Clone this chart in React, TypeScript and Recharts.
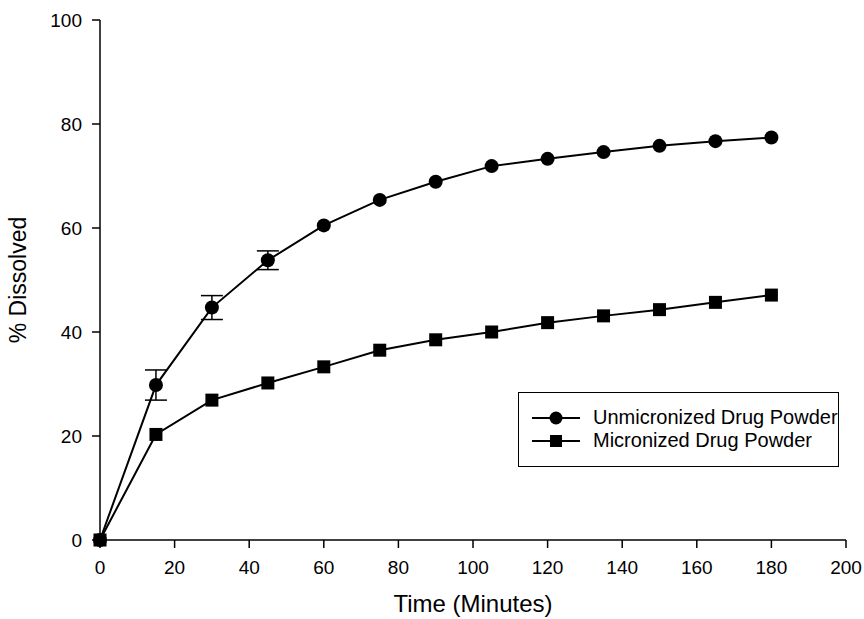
import { LineChart, Line, XAxis, YAxis, ErrorBar } from 'recharts';

const times = [0, 15, 30, 45, 60, 75, 90, 105, 120, 135, 150, 165, 180];
const unmicronized = [0, 29.8, 44.7, 53.8, 60.5, 65.4, 68.9, 71.9, 73.3, 74.6, 75.8, 76.7, 77.4];
const unmicronizedErr = [null, 2.9, 2.3, 1.8, null, null, null, null, null, null, null, null, null];
const micronized = [0, 20.3, 26.9, 30.2, 33.3, 36.5, 38.5, 40.0, 41.8, 43.1, 44.3, 45.7, 47.1];

const xTicks = [0, 20, 40, 60, 80, 100, 120, 140, 160, 180, 200];
const yTicks = [0, 20, 40, 60, 80, 100];

const data = times.map((t, i) => ({
  time: t,
  unmicronized: unmicronized[i],
  err: unmicronizedErr[i],
  micronized: micronized[i],
}));

const FONT = '"Liberation Sans", Arial, sans-serif';

function SquareDot(props: any) {
  const { cx, cy } = props;
  if (cx == null || cy == null) return null;
  return <rect x={cx - 6.5} y={cy - 6.5} width={13} height={13} fill="#000" />;
}

function LegendBox() {
  const row = (shape: 'circle' | 'square', label: string) => (
    <div style={{ display: 'flex', alignItems: 'center', height: 23 }}>
      <svg width={48} height={16} style={{ marginRight: 13, flexShrink: 0 }}>
        <line x1={0} y1={8} x2={48} y2={8} stroke="#000" strokeWidth={2} />
        {shape === 'circle'
          ? <circle cx={24} cy={8} r={6.5} fill="#000" />
          : <rect x={18} y={2} width={12} height={12} fill="#000" />}
      </svg>
      <span style={{ whiteSpace: 'nowrap' }}>{label}</span>
    </div>
  );
  return (
    <div
      style={{
        position: 'absolute',
        left: 518,
        top: 392,
        border: '1.5px solid #000',
        width: 321,
        height: 75,
        boxSizing: 'border-box',
        padding: '13px 0 0 13px',
        fontFamily: FONT,
        fontSize: 20,
        lineHeight: '23px',
        color: '#000',
        background: '#fff',
        overflow: 'hidden',
      }}
    >
      {row('circle', 'Unmicronized Drug Powder')}
      {row('square', 'Micronized Drug Powder')}
    </div>
  );
}

export default function App() {
  return (
    <div style={{ position: 'absolute', left: 0, top: 0, width: 864, height: 619, background: '#fff' }}>
      <LineChart
        width={864}
        height={619}
        data={data}
        margin={{ top: 20, right: 18, bottom: 29, left: 40 }}
      >
        <XAxis
          dataKey="time"
          type="number"
          domain={[0, 200]}
          ticks={xTicks}
          interval={0}
          height={50}
          tick={{ fontSize: 19, fill: '#000', fontFamily: FONT }}
          tickSize={8}
          tickMargin={13}
          axisLine={{ stroke: '#000', strokeWidth: 1.5 }}
          tickLine={{ stroke: '#000', strokeWidth: 1.5 }}
          label={{ value: 'Time (Minutes)', position: 'insideBottom', offset: -22, fontSize: 24, fill: '#000', fontFamily: FONT }}
        />
        <YAxis
          type="number"
          domain={[0, 100]}
          ticks={yTicks}
          interval={0}
          width={60}
          tick={{ fontSize: 19, fill: '#000', fontFamily: FONT }}
          tickSize={8}
          tickMargin={10}
          axisLine={{ stroke: '#000', strokeWidth: 1.5 }}
          tickLine={{ stroke: '#000', strokeWidth: 1.5 }}
          label={{ value: '% Dissolved', angle: -90, position: 'insideLeft', offset: -22, fontSize: 23, fill: '#000', fontFamily: FONT, style: { textAnchor: 'middle' } }}
        />
        <Line
          dataKey="unmicronized"
          name="Unmicronized Drug Powder"
          stroke="#000"
          strokeWidth={2}
          dot={{ r: 7, fill: '#000', stroke: '#000', strokeWidth: 0 }}
          isAnimationActive={false}
        >
          <ErrorBar dataKey="err" width={11} stroke="#000" strokeWidth={1.5} direction="y" />
        </Line>
        <Line
          dataKey="micronized"
          name="Micronized Drug Powder"
          stroke="#000"
          strokeWidth={2}
          dot={<SquareDot />}
          isAnimationActive={false}
        />
      </LineChart>
      <LegendBox />
    </div>
  );
}
